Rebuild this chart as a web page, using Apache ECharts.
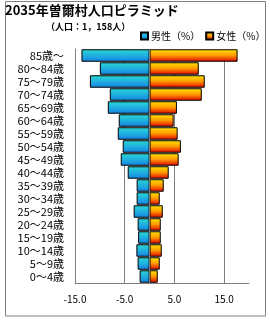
<!DOCTYPE html>
<html><head><meta charset="utf-8">
<script src="https://cdn.jsdelivr.net/npm/echarts@6/dist/echarts.min.js"></script>
<style>html,body{margin:0;padding:0;background:#fff}#c{width:270px;height:320px}</style>
</head><body><div id="c"></div>
<script>
const titleText = '2035年曽爾村人口ピラミッド';
const subtitleText = '（人口：1，158人）';
const categories = ['0〜4歳','5〜9歳','10〜14歳','15〜19歳','20〜24歳','25〜29歳','30〜34歳','35〜39歳','40〜44歳','45〜49歳','50〜54歳','55〜59歳','60〜64歳','65〜69歳','70〜74歳','75〜79歳','80〜84歳','85歳〜'];
const seriesNames = ['男性（%）','女性（%）'];
const maleValues = [-2.0,-2.4,-2.65,-2.3,-2.4,-3.2,-2.6,-2.6,-4.4,-5.8,-5.4,-6.4,-6.2,-8.4,-8.0,-12.0,-10.0,-13.7];
const femaleValues = [1.65,2.05,2.45,2.25,2.25,2.65,2.05,2.85,3.85,5.85,6.3,5.65,4.85,5.5,10.5,11.1,9.9,17.7];
const xTickValues = [-15,-5,5,15];
const xTickLabels = ['-15.0','-5.0','5.0','15.0'];

const FONT = '"Noto Sans CJK JP", sans-serif';
const chart = echarts.init(document.getElementById('c'), null, {renderer:'canvas'});
const grad = (stops) => new echarts.graphic.LinearGradient(0,0,0,1, stops.map((c,i)=>({offset:i/(stops.length-1), color:c})));
chart.setOption({
  animation:false,
  graphic:[{type:'rect', shape:{x:5.5,y:1.5,width:260,height:314.5}, style:{fill:'none', stroke:'#808080', lineWidth:1}, z:-1}],
  title:[
    {text:titleText, left:5, top:4, textStyle:{fontFamily:FONT, fontSize:13, fontWeight:'bold', color:'#000'}, padding:0},
    {text:subtitleText, left:46, top:22, textStyle:{fontFamily:FONT, fontSize:9, fontWeight:'bold', color:'#000'}, padding:0}
  ],
  legend:{
    data:seriesNames, left:140, top:31, width:128, orient:'horizontal', icon:'rect',
    itemWidth:7, itemHeight:7, itemGap:5, padding:0,
    textStyle:{fontFamily:FONT, fontSize:10, color:'#000', padding:[0,0,0,-2]}
  },
  grid:{left:75, right:21, top:49, bottom:37},
  xAxis:{
    type:'value', min:-15, max:20, interval:5,
    axisLine:{show:true, onZero:false, lineStyle:{color:'#808080'}},
    axisTick:{show:false},
    splitLine:{show:true, lineStyle:{color:['#808080','transparent'], width:1}},
    axisLabel:{fontFamily:FONT, fontSize:10, color:'#000', margin:11,
      formatter:(v)=>{const i=xTickValues.indexOf(v); return i>=0?xTickLabels[i]:'';}}
  },
  yAxis:{
    type:'category', data:categories,
    axisLine:{show:true, onZero:false, lineStyle:{color:'#808080'}},
    axisTick:{show:false},
    axisLabel:{fontFamily:FONT, fontSize:11, color:'#000', margin:11, interval:0}
  },
  series:[
    {name:seriesNames[0], type:'bar', stack:'p', data:maleValues, barCategoryGap:'4%',
     itemStyle:{color:grad(['#28d8d0','#20b0e0','#1480e0']), borderColor:'#000', borderWidth:1}},
    {name:seriesNames[1], type:'bar', stack:'p', data:femaleValues, barCategoryGap:'4%',
     itemStyle:{color:grad(['#ffe800','#ff9800','#e00000']), borderColor:'#000', borderWidth:1},
     markLine:{silent:true, symbol:'none', label:{show:false}, z:10,
       lineStyle:{color:'#808080', type:'solid', width:1}, data:[{xAxis:0}]}}
  ]
});
</script></body></html>
